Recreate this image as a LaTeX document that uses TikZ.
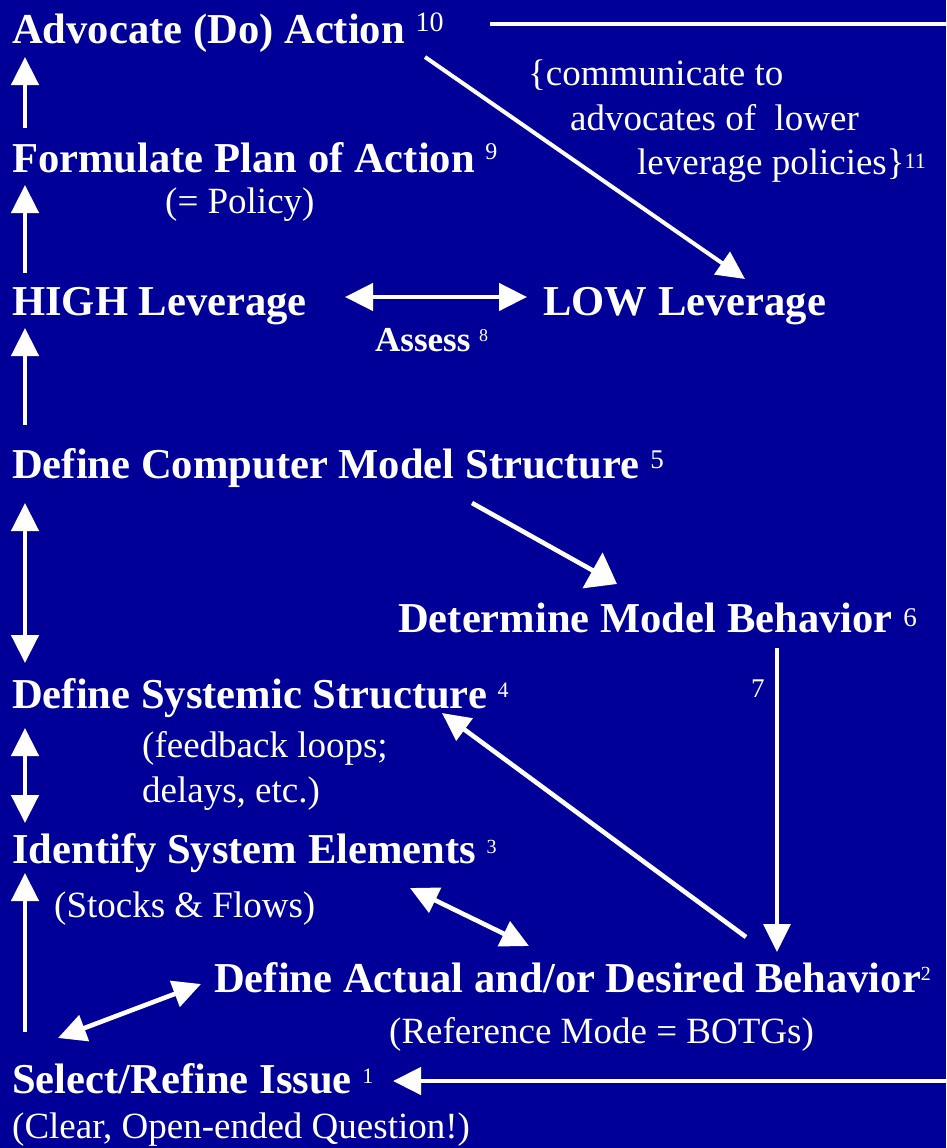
\documentclass[tikz,border=0pt]{standalone}
\usepackage{fontspec}
\setmainfont{Liberation Serif}
\usetikzlibrary{arrows.meta}
\definecolor{bg}{RGB}{0,0,153}
\newcommand\supnum[3]{{\mdseries\fontsize{#1}{#1}\selectfont\raisebox{#2pt}{#3}}}
\begin{document}
\begin{tikzpicture}[x=1pt,y=-1pt,
  bold/.style={anchor=base west,inner sep=0pt,text=white,font=\fontsize{42.6}{44}\selectfont\bfseries},
  plain/.style={anchor=base west,inner sep=0pt,text=white,font=\fontsize{37}{40}\selectfont},
  conn/.style={draw=white,line width=4.6pt,-{Triangle[length=28pt,width=27pt]}},
  dconn/.style={draw=white,line width=4.6pt,{Triangle[length=28pt,width=27pt]}-{Triangle[length=28pt,width=27pt]}},
  wideconn/.style={draw=white,line width=4.6pt,-{Triangle[length=28pt,width=40pt]}},
  plainline/.style={draw=white,line width=4pt}
  ]
\fill[bg] (0,0) rectangle (946,1148);
\useasboundingbox (0,0) rectangle (946,1148);

% texts
\node[bold] (adv) at (12,44) {Advocate (Do) Action \supnum{28}{12}{10}};
\node[plain] (com1) at (528,85) {\{communicate to};
\node[plain] (com2) at (570,130) {advocates of\ \ lower};
\node[plain] (com3) at (637,174) {leverage policies\}\supnum{22}{6}{11}};
\node[bold] (plan) at (12,172) {Formulate Plan of Action \supnum{24}{13}{9}};
\node[plain] (pol) at (165,213) {(= Policy)};
\node[bold] (high) at (12,315) {HIGH Leverage};
\node[bold] (low) at (543,315) {LOW Leverage};
\node[anchor=base west,inner sep=0pt,text=white,font=\fontsize{35}{38}\selectfont\bfseries] (assess) at (375,351) {Assess \supnum{18}{10}{8}};
\node[bold] (comp) at (12,478) {Define Computer Model Structure \supnum{27}{10}{5}};
\node[bold] (det) at (398,632) {Determine Model Behavior \supnum{27}{6}{6}};
\node[anchor=base west,inner sep=0pt,text=white,font=\fontsize{27}{30}\selectfont] (seven) at (751,697) {7};
\node[bold] (sys) at (12,708) {Define Systemic Structure \supnum{22}{11}{4}};
\node[plain] (fb1) at (142,757) {(feedback loops;};
\node[plain] (fb2) at (142,802) {delays, etc.)};
\node[bold] (elem) at (12,863) {Identify System Elements \supnum{20}{10}{3}};
\node[plain] (stocks) at (54,917) {(Stocks \& Flows)};
\node[bold] (beh) at (214,992) {Define Actual and/or Desired Behavior\supnum{20}{12}{2}};
\node[plain] (ref) at (389,1043) {(Reference Mode = BOTGs)};
\node[bold] (sel) at (12,1093) {Select/Refine Issue \supnum{22}{10}{1}};
\node[plain] (clear) at (12,1138) {(Clear, Open-ended Question!)};

% connector end points
\coordinate (planTop) at (25,128);
\coordinate (advBot) at (25,57);
\coordinate (highTop) at (25,273);
\coordinate (planBot) at (25,185);
\coordinate (compTop) at (25,425);
\coordinate (highBot) at (25,328);
\coordinate (compBot) at (25,503);
\coordinate (sysTop) at (25,663);
\coordinate (sysBot) at (25,728);
\coordinate (elemTop) at (25,823);
\coordinate (selTop) at (25,1032);
\coordinate (elemBot) at (25,873);
\coordinate (highR) at (345,297);
\coordinate (lowL) at (527,297);
\coordinate (advR) at (425,57);
\coordinate (lowTop) at (745,279);
\coordinate (topA) at (490,24);
\coordinate (topB) at (946,24);
\coordinate (compR) at (472,503);
\coordinate (detL) at (617,584);
\coordinate (detBot) at (777,648);
\coordinate (behTop) at (777,952);
\coordinate (behTL) at (746,937);
\coordinate (sysR) at (442,713);
\coordinate (elemR) at (410,888);
\coordinate (behL) at (529,946);
\coordinate (selR) at (58,1038);
\coordinate (behLL) at (201,984);
\coordinate (botA) at (946,1081);
\coordinate (selArr) at (393,1081);

% connectors
\draw[conn] (planTop) -- (advBot);
\draw[conn] (highTop) -- (planBot);
\draw[conn] (compTop) -- (highBot);
\draw[dconn] (compBot) -- (sysTop);
\draw[dconn] (sysBot) -- (elemTop);
\draw[conn] (selTop) -- (elemBot);
\draw[dconn] (highR) -- (lowL);
\draw[conn,line width=4pt] (advR) -- (lowTop);
\draw[plainline] (topA) -- (topB);
\draw[wideconn] (compR) -- (detL);
\draw[conn,line width=3.5pt] (detBot) -- (behTop);
\draw[conn] (behTL) -- (sysR);
\draw[dconn] (elemR) -- (behL);
\draw[dconn] (selR) -- (behLL);
\draw[conn] (botA) -- (selArr);
\end{tikzpicture}
\end{document}
